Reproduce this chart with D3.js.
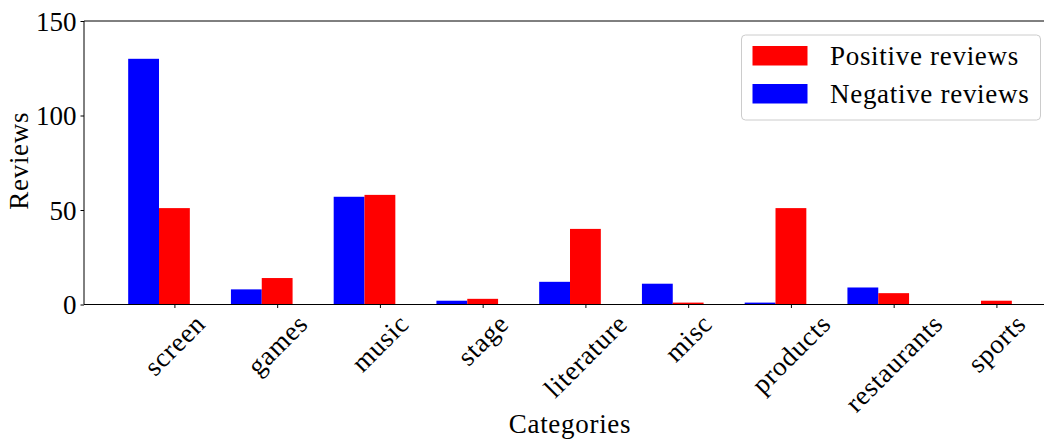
<!DOCTYPE html>
<html>
<head>
<meta charset="utf-8">
<script src="https://cdn.jsdelivr.net/npm/d3@7"></script>
<style>
  html, body { margin: 0; padding: 0; background: #fff; }
  svg { display: block; }
  text { font-family: "Liberation Serif", "Times New Roman", serif; fill: #000; }
  .word { letter-spacing: 0.7px; }
</style>
</head>
<body>
<svg id="chart" width="1044" height="442"></svg>
<script>
// Review counts per category
const categories = ["screen", "games", "music", "stage", "literature", "misc", "products", "restaurants", "sports"];
const positiveReviews = [51, 14, 58, 3, 40, 1, 51, 6, 2];
const negativeReviews = [130, 8, 57, 2, 12, 11, 1, 9, 0];
const yTicks = [0, 50, 100, 150];
const seriesNames = ["Positive reviews", "Negative reviews"];
const seriesColors = ["#ff0000", "#0000ff"];

const plot = { left: 84, top: 21, bottom: 304.5 };
const barW = 0.3;           // bar width in category units
const fontSize = 27;

const svg = d3.select("#chart");

// Numeric x scale over category indices, with 5% padding around the bars
const xMin = -barW - barW / 2, xMax = (categories.length - 1) + barW / 2;
const pad = (xMax - xMin) * 0.05;
const unit = 102.75;
const x = d3.scaleLinear()
  .domain([xMin - pad, xMax + pad])
  .range([plot.left, plot.left + unit * (xMax - xMin + 2 * pad)]);
const plotRight = x.range()[1];

const y = d3.scaleLinear().domain([0, 150]).range([plot.bottom, plot.top]);

// Bars: negative to the left of each tick, positive centred on it
const rows = categories.map((c, i) => ({ c, i, pos: positiveReviews[i], neg: negativeReviews[i] }));
const g = svg.append("g");
g.selectAll("rect.neg").data(rows).join("rect")
  .attr("class", "neg")
  .attr("x", d => x(d.i - barW - barW / 2))
  .attr("width", x(barW) - x(0))
  .attr("y", d => y(d.neg))
  .attr("height", d => y(0) - y(d.neg))
  .attr("fill", seriesColors[1]);
g.selectAll("rect.pos").data(rows).join("rect")
  .attr("class", "pos")
  .attr("x", d => x(d.i - barW / 2))
  .attr("width", x(barW) - x(0))
  .attr("y", d => y(d.pos))
  .attr("height", d => y(0) - y(d.pos))
  .attr("fill", seriesColors[0]);

// Spines (the right one falls past the page edge)
svg.append("line").attr("x1", plot.left).attr("x2", plotRight).attr("y1", plot.top).attr("y2", plot.top)
  .attr("stroke", "#000").attr("stroke-width", 1);
svg.append("line").attr("x1", plot.left).attr("x2", plot.left).attr("y1", plot.top).attr("y2", plot.bottom)
  .attr("stroke", "#000").attr("stroke-width", 1);

// Y axis
const yAxis = d3.axisLeft(y).tickValues(yTicks).tickSize(3.5).tickPadding(4);
const ya = svg.append("g").attr("transform", `translate(${plot.left},0)`).call(yAxis);
ya.select(".domain").remove();
ya.selectAll("text").style("font-size", fontSize + "px")
  .style("font-family", '"Liberation Serif", serif').attr("dy", "0.34em");
ya.selectAll("line").attr("stroke", "#000");

// X axis: ticks at category positions, labels rotated 45 degrees
const xAxis = d3.axisBottom(x).tickValues(d3.range(categories.length)).tickFormat(i => categories[i])
  .tickSize(3.5).tickSizeOuter(0);
const xa = svg.append("g").attr("transform", `translate(0,${plot.bottom})`).call(xAxis);
xa.select(".domain").attr("stroke", "#000").attr("d", `M${plot.left},0H${plotRight}`);
xa.selectAll(".tick line").attr("stroke", "#000");
xa.selectAll(".tick text").each(function () {
  const t = d3.select(this)
    .attr("class", "word")
    .style("font-size", fontSize + "px")
    .style("font-family", '"Liberation Serif", serif')
    .attr("text-anchor", "middle")
    .attr("y", 0).attr("dy", "0.32em");
  const w = this.getComputedTextLength();
  const h = fontSize * 0.72;
  const half = (w + h) * Math.SQRT1_2 / 2;
  t.attr("transform", `translate(0,${8 + half}) rotate(-45)`);
});

// Axis titles
svg.append("text").attr("class", "word").attr("x", (plot.left + plotRight) / 2).attr("y", 433)
  .attr("text-anchor", "middle").style("font-size", fontSize + "px").text("Categories");
svg.append("text").attr("class", "word").attr("transform", `translate(28,${(plot.top + plot.bottom) / 2 - 2}) rotate(-90)`)
  .attr("text-anchor", "middle").style("font-size", fontSize + "px").text("Reviews");

// Legend
const lg = svg.append("g").attr("transform", "translate(741.5,35)");
lg.append("rect").attr("width", 299).attr("height", 85).attr("rx", 4)
  .attr("fill", "#fff").attr("fill-opacity", 0.8).attr("stroke", "#cccccc").attr("stroke-width", 1);
seriesNames.forEach((name, i) => {
  const rowY = 11 + i * 38;
  lg.append("rect").attr("x", 11).attr("y", rowY).attr("width", 55).attr("height", 19.5).attr("fill", seriesColors[i]);
  lg.append("text").attr("class", "word").attr("x", 88.5).attr("y", rowY + 19).style("font-size", fontSize + "px").text(name);
});
</script>
</body>
</html>
